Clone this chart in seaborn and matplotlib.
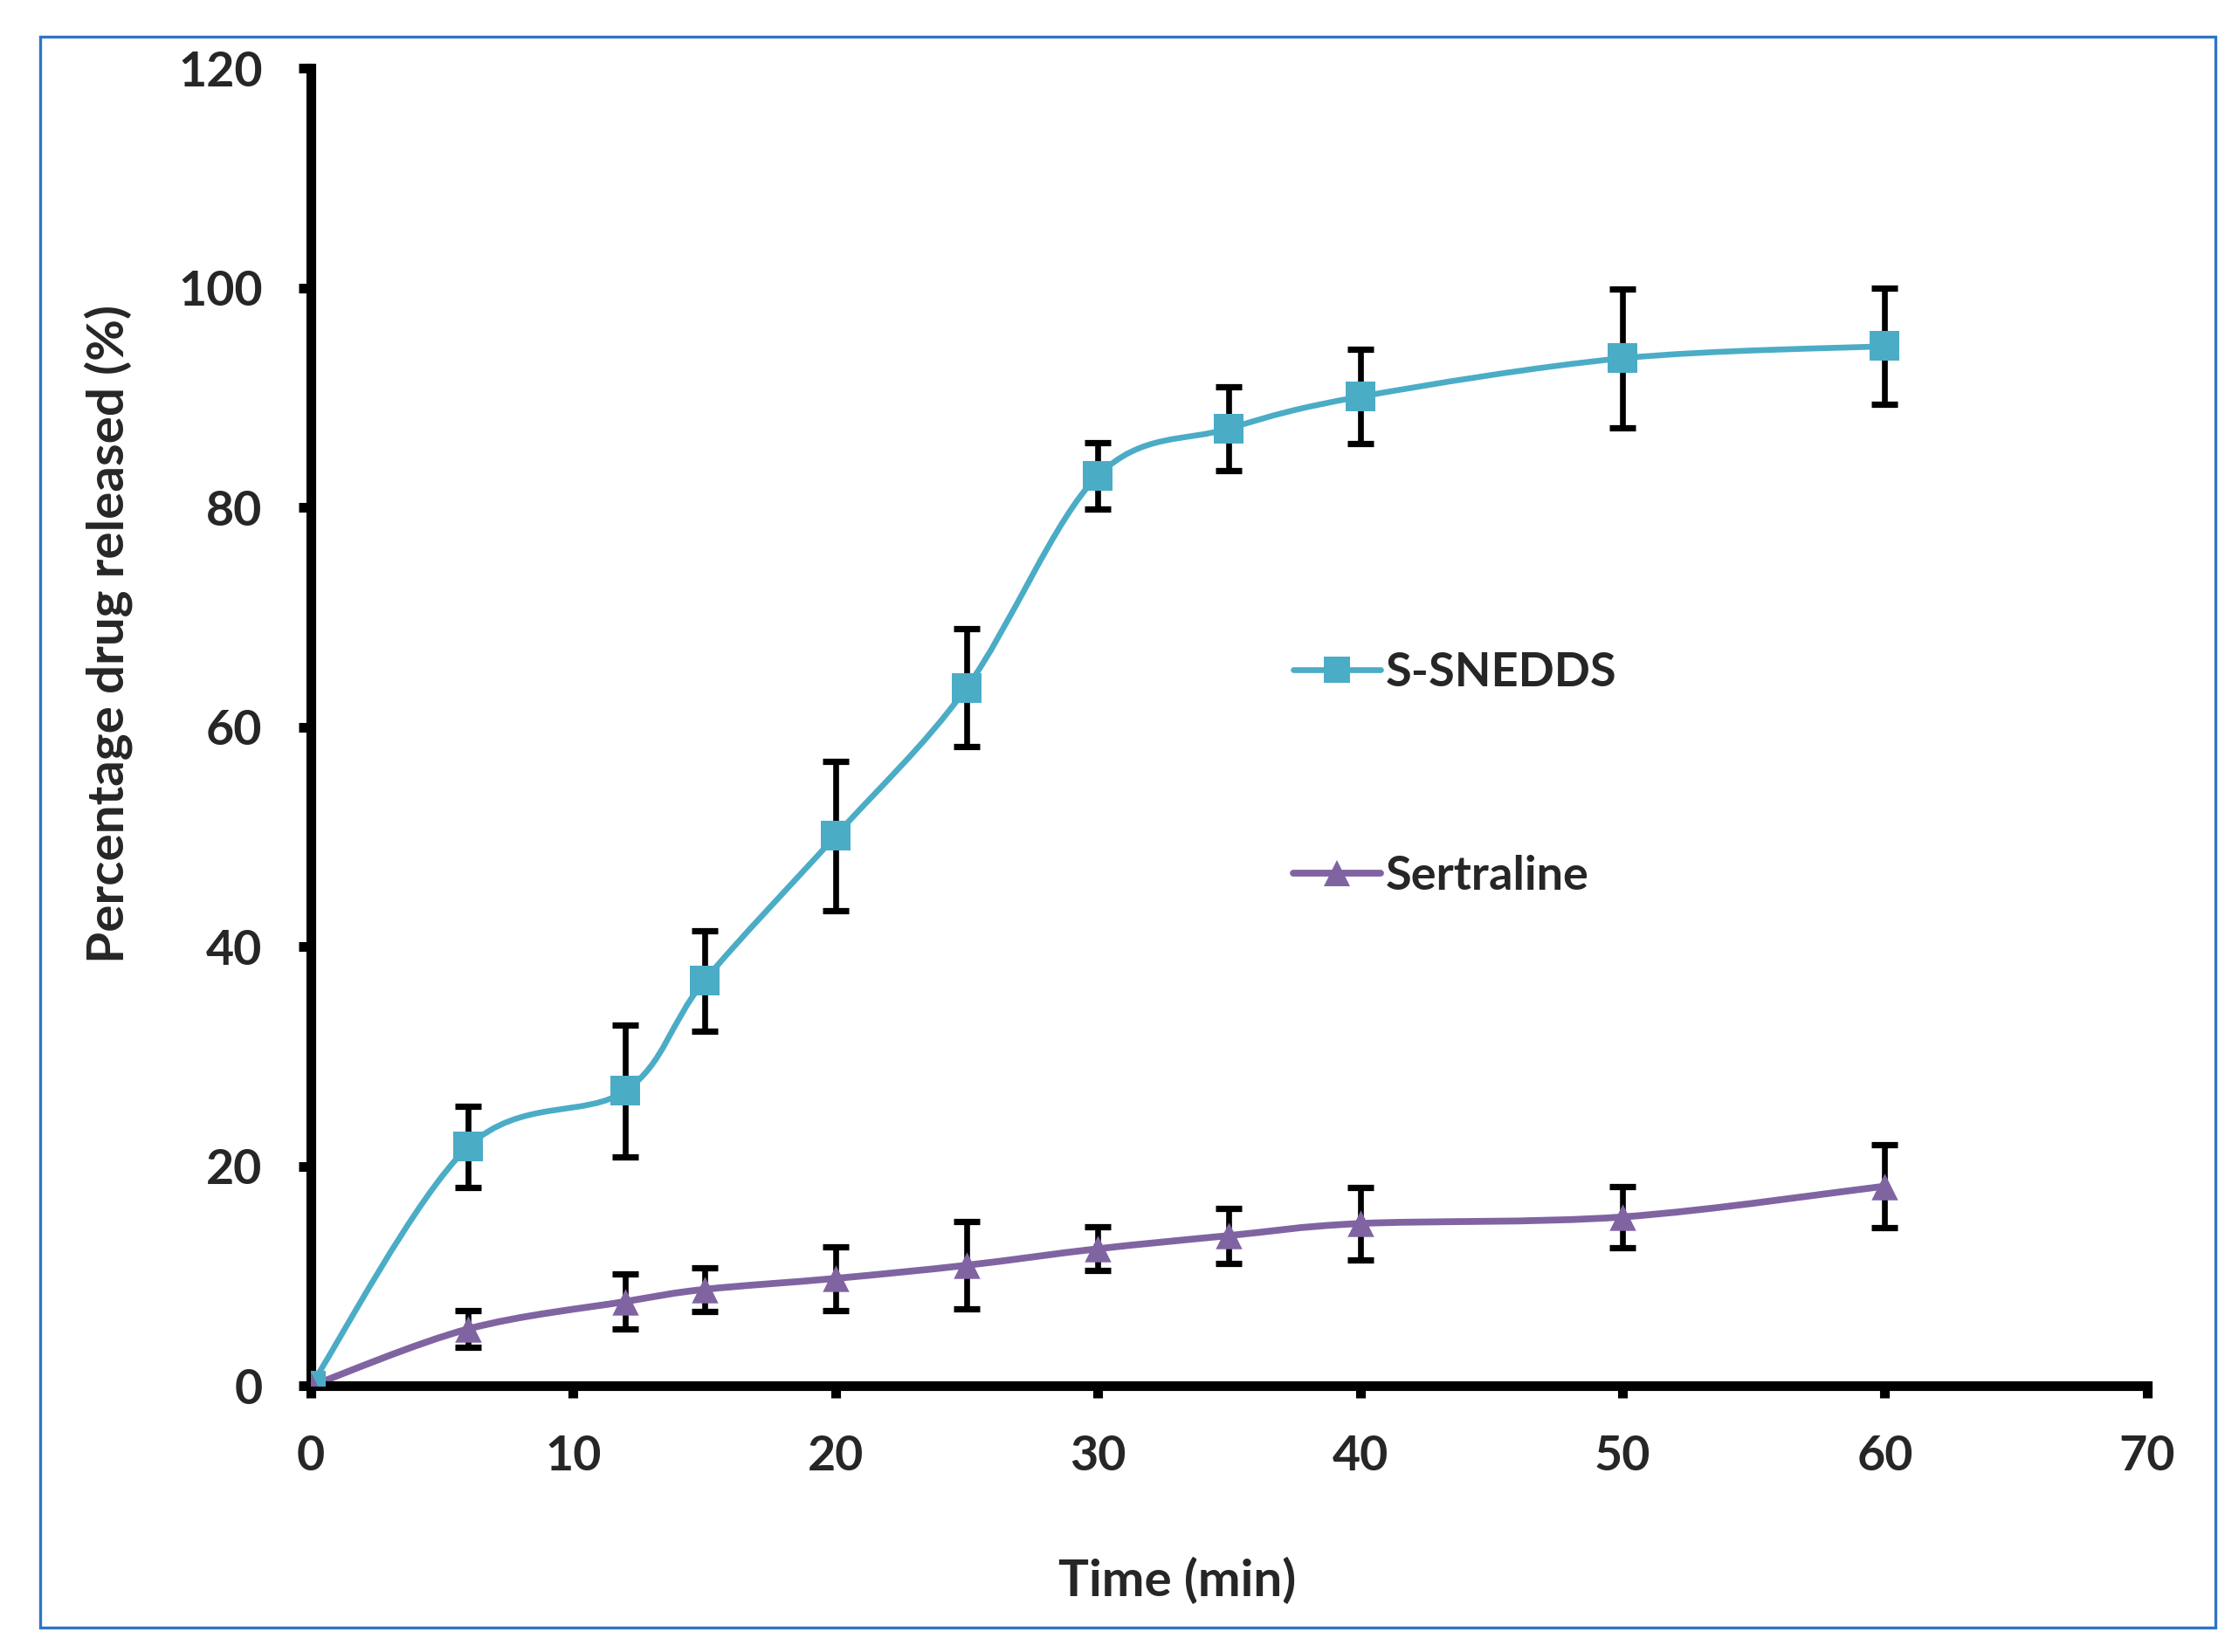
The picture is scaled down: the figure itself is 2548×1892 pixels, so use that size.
import numpy as np
import matplotlib
matplotlib.use("Agg")
import matplotlib.pyplot as plt
from matplotlib.path import Path
from matplotlib.patches import PathPatch, Rectangle
from matplotlib.lines import Line2D
import seaborn as sns

# release data
time_min = [0, 6, 12, 15, 20, 25, 30, 35, 40, 50, 60]
snedds = [0, 21.8, 26.9, 36.9, 50.1, 63.6, 82.9, 87.2, 90.1, 93.6, 94.7]
snedds_err = [0, 3.7, 6.0, 4.6, 6.8, 5.4, 3.0, 3.8, 4.3, 6.3, 5.3]
sertraline = [0, 5.2, 7.7, 8.8, 9.8, 11.0, 12.5, 13.7, 14.8, 15.4, 18.2]
sertraline_err = [0, 1.7, 2.5, 2.0, 2.9, 4.0, 2.0, 2.5, 3.3, 2.8, 3.8]

blue = "#4BACC6"
purple = "#8064A2"

sns.set_theme(style="ticks")
plt.rcParams['font.family'] = ['Lato', 'DejaVu Sans']
plt.rcParams['font.weight'] = 'bold'


def smooth_path(x, y):
    # excel style smoothed line: cubic bezier with catmull-rom tangents
    pts = np.column_stack([x, y]).astype(float)
    ext = np.vstack([pts[0], pts, pts[-1]])
    verts = [pts[0]]
    codes = [Path.MOVETO]
    for i in range(len(pts) - 1):
        p0, p1, p2, p3 = ext[i], ext[i + 1], ext[i + 2], ext[i + 3]
        c1 = p1 + (p2 - p0) / 6.0
        c2 = p2 - (p3 - p1) / 6.0
        verts += [c1, c2, p2]
        codes += [Path.CURVE4] * 3
    return Path(verts, codes)


fig = plt.figure(figsize=(12.74, 9.46), dpi=200)
ax = fig.add_axes([0.1397, 0.161, 0.8253, 0.7976])

for yv, ev, col, mk, ms, lw in [(snedds, snedds_err, blue, 's', 150, 2.4),
                                (sertraline, sertraline_err, purple, '^', 120, 2.8)]:
    ax.add_patch(PathPatch(smooth_path(time_min, yv), facecolor='none',
                           edgecolor=col, lw=lw, zorder=2))
    ax.errorbar(time_min[1:], yv[1:], yerr=ev[1:], fmt='none', ecolor='black',
                elinewidth=2.4, capsize=5.5, capthick=2.6, zorder=3)
    sns.scatterplot(x=time_min, y=yv, marker=mk, s=ms, color=col,
                    linewidth=0, zorder=4, ax=ax, legend=False)

ax.set_xlim(0, 70)
ax.set_ylim(0, 120)
ax.set_xticks(range(0, 71, 10))
ax.set_yticks(range(0, 121, 20))
sns.despine(ax=ax)
for s in ['left', 'bottom']:
    ax.spines[s].set_linewidth(4)
    ax.spines[s].set_color('black')
ax.tick_params(axis='both', direction='out', length=5, width=4, color='black',
               labelsize=20, pad=15)
for lab in ax.get_xticklabels() + ax.get_yticklabels():
    lab.set_fontweight('bold')

ax.set_xlabel("Time (min)", fontsize=21, fontweight='bold')
ax.set_ylabel("Percentage drug released (%)", fontsize=21, fontweight='bold')
ax.xaxis.set_label_coords(0.472, -0.13)
ax.yaxis.set_label_coords(-0.097, 0.571)

handles = [Line2D([], [], color=blue, lw=2.4, marker='s', markersize=11, markeredgewidth=0),
           Line2D([], [], color=purple, lw=2.8, marker='^', markersize=11, markeredgewidth=0)]
leg = ax.legend(handles, ["S-SNEDDS", "Sertraline"], loc='center left',
                bbox_to_anchor=(0.535, 0.464), frameon=False, fontsize=19.5,
                handlelength=1.85, handletextpad=0.1, labelspacing=3.4,
                borderpad=0, borderaxespad=0)
for t in leg.get_texts():
    t.set_fontweight('bold')

# blue frame round the whole picture
fig.patches.append(Rectangle((0.018, 0.0147), 0.9775, 0.9633, transform=fig.transFigure,
                             fill=False, edgecolor='#2E75C6', lw=1.2))

fig.savefig("out.png", dpi=200)
